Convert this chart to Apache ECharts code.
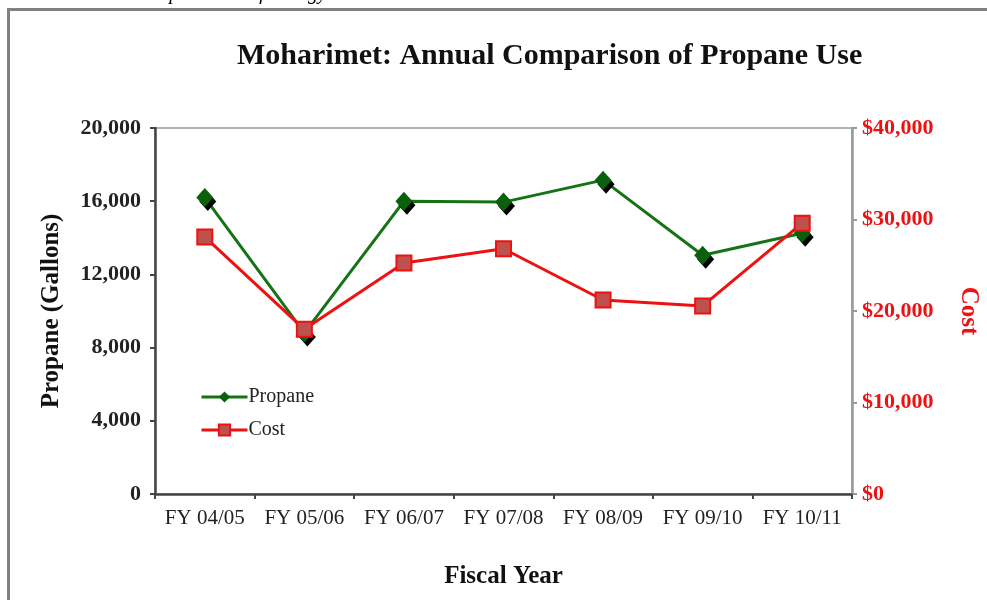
<!DOCTYPE html>
<html>
<head>
<meta charset="utf-8">
<script src="https://cdn.jsdelivr.net/npm/echarts@6/dist/echarts.min.js"></script>
<style>
  html, body { margin: 0; padding: 0; background: #fff; }
  #lineChart { width: 987px; height: 600px; }
</style>
</head>
<body>
<div id="lineChart"></div>
<script>
'use strict';

var categories = ['FY 04/05', 'FY 05/06', 'FY 06/07', 'FY 07/08', 'FY 08/09', 'FY 09/10', 'FY 10/11'];
var propane = [16200, 8800, 16000, 15950, 17150, 13050, 14250];
var cost = [28100, 18000, 25250, 26800, 21200, 20550, 29600];
var propaneTicks = [0, 4000, 8000, 12000, 16000, 20000];
var costTicks = [0, 10000, 20000, 30000, 40000];

var serif = '"Liberation Serif", "Times New Roman", serif';
var chart = echarts.init(document.getElementById('lineChart'));

function thousands(v) {
	return String(v).replace(/\B(?=(\d{3})+(?!\d))/g, ',');
}

var options = {
	animation: false,
	textStyle: { fontFamily: serif },
	title: {
		text: 'Moharimet: Annual Comparison of Propane Use',
		left: 232,
		top: 36,
		textStyle: { fontFamily: serif, fontSize: 30, fontWeight: 'bold', color: '#111' }
	},
	graphic: [
		{
			type: 'rect',
			shape: { x: 8.5, y: 9.5, width: 1000, height: 700 },
			style: { fill: null, stroke: '#808080', lineWidth: 3 },
			silent: true
		},
		{
			type: 'text',
			left: 140,
			top: -16,
			style: {
				text: 'Propane Use of Energy',
				font: 'italic 20px ' + serif,
				fill: '#000'
			},
			silent: true
		}
	],
	legend: {
		orient: 'vertical',
		left: 195,
		top: 382,
		itemWidth: 46,
		itemHeight: 14,
		itemGap: 13,
		data: ['Propane', 'Cost'],
		lineStyle: { width: 3 },
		textStyle: { fontFamily: serif, fontSize: 20, color: '#222', padding: [0, 0, 0, -4] }
	},
	grid: {
		left: 155,
		right: 135,
		top: 128,
		bottom: 106,
		outerBoundsMode: 'none',
		containLabel: false,
		show: true,
		borderColor: '#b4b4b4',
		borderWidth: 2
	},
	xAxis: {
		type: 'category',
		data: categories,
		boundaryGap: true,
		name: 'Fiscal Year',
		nameLocation: 'middle',
		nameGap: 70,
		nameTextStyle: { fontFamily: serif, fontSize: 25, fontWeight: 'bold', color: '#111' },
		axisLine: { lineStyle: { color: '#444', width: 2.5 } },
		axisTick: { show: true, length: 5, lineStyle: { color: '#444', width: 2 } },
		axisLabel: { fontFamily: serif, fontSize: 21, color: '#222', margin: 14, interval: 0 },
		splitLine: { show: false }
	},
	yAxis: [
		{
			type: 'value',
			min: 0,
			max: 20000,
			interval: 4000,
			position: 'left',
			name: 'Propane (Gallons)',
			nameLocation: 'middle',
			nameGap: 91,
			nameTextStyle: { fontFamily: serif, fontSize: 25, fontWeight: 'bold', color: '#111' },
			axisLine: { show: true, lineStyle: { color: '#444', width: 2.5 } },
			axisTick: { show: true, length: 5, lineStyle: { color: '#444', width: 2 } },
			axisLabel: {
				fontFamily: serif, fontSize: 22, fontWeight: 'bold', color: '#222', margin: 14,
				formatter: function (v) { return thousands(v); }
			},
			splitLine: { show: false }
		},
		{
			type: 'value',
			min: 0,
			max: 40000,
			interval: 10000,
			position: 'right',
			name: 'Cost',
			nameLocation: 'middle',
			nameGap: 104,
			nameRotate: -90,
			nameTextStyle: { fontFamily: serif, fontSize: 25, fontWeight: 'bold', color: '#ee1111' },
			axisLine: { show: true, lineStyle: { color: '#999', width: 2.5 } },
			axisTick: { show: true, length: 5, lineStyle: { color: '#999', width: 2 } },
			axisLabel: {
				fontFamily: serif, fontSize: 22, fontWeight: 'bold', color: '#ee1111', margin: 10,
				formatter: function (v) { return '$' + thousands(v); }
			},
			splitLine: { show: false }
		}
	],
	series: [
		{
			name: 'Propane',
			type: 'line',
			yAxisIndex: 0,
			data: propane,
			symbol: 'diamond',
			symbolSize: [17, 19],
			lineStyle: { color: '#157215', width: 3 },
			itemStyle: {
				color: '#0b600b',
				shadowColor: '#000',
				shadowOffsetX: 3,
				shadowOffsetY: 4,
				shadowBlur: 0
			},
			z: 3
		},
		{
			name: 'Cost',
			type: 'line',
			yAxisIndex: 1,
			data: cost,
			symbol: 'rect',
			symbolSize: 15,
			lineStyle: { color: '#ee1111', width: 3 },
			itemStyle: { color: '#c0504d', borderColor: '#ee1111', borderWidth: 2 },
			z: 4
		}
	]
};

chart.setOption(options);
</script>
</body>
</html>
